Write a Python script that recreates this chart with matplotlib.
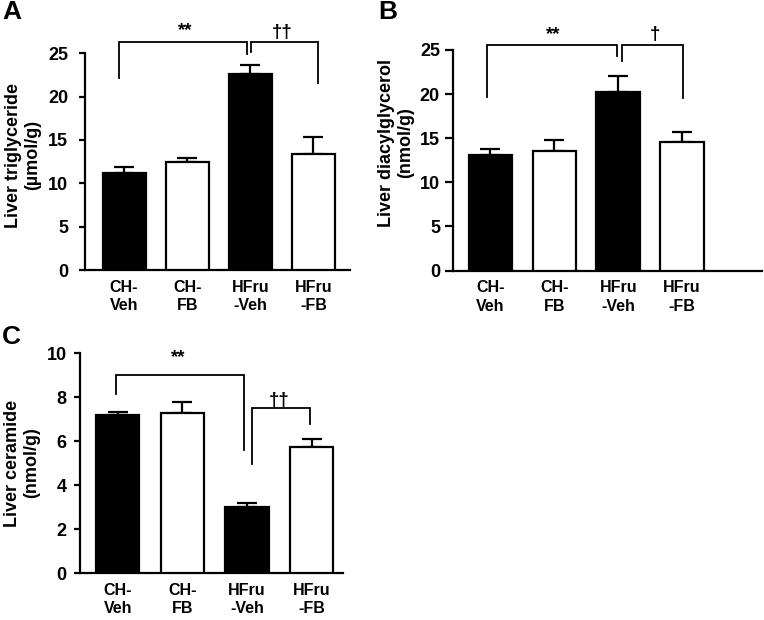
import matplotlib
matplotlib.use('Agg')
import matplotlib.pyplot as plt
import numpy as np

plt.rcParams['font.family'] = ['Liberation Sans', 'DejaVu Sans']
plt.rcParams['font.weight'] = 'bold'

groups = ['CH-\nVeh', 'CH-\nFB', 'HFru\n-Veh', 'HFru\n-FB']
bar_colors = ['black', 'white', 'black', 'white']

tg_mean = [11.15, 12.45, 22.6, 13.35]
tg_err = [0.7, 0.5, 1.0, 2.0]

dag_mean = [13.1, 13.6, 20.25, 14.55]
dag_err = [0.65, 1.15, 1.8, 1.15]

cer_mean = [7.17, 7.29, 3.01, 5.74]
cer_err = [0.14, 0.48, 0.16, 0.34]

tg_ticks = [0, 5, 10, 15, 20, 25]
dag_ticks = [0, 5, 10, 15, 20, 25]
cer_ticks = [0, 2, 4, 6, 8, 10]

W, H = 764, 620
fig = plt.figure(figsize=(W / 100, H / 100), dpi=100)


def px_axes(left, right, bottom, top):
    return fig.add_axes([left / W, 1 - bottom / H, (right - left) / W, (bottom - top) / H])


def panel(ax, means, errs, ticks, xlim, width, tlen, tpad):
    x = np.arange(len(means))
    ax.errorbar(x, means, yerr=[np.zeros(len(errs)), errs], fmt='none', ecolor='black',
                elinewidth=1.6, capsize=7, capthick=1.6, zorder=2, clip_on=False)
    ax.bar(x, means, width, color=bar_colors, edgecolor='black', linewidth=1.6, zorder=3)
    ax.set_xlim(*xlim)
    ax.set_ylim(ticks[0], ticks[-1])
    ax.set_yticks(ticks)
    ax.set_xticks(x)
    ax.set_xticklabels(groups, fontsize=11.5, fontweight='bold', linespacing=1.3)
    for s in ['top', 'right']:
        ax.spines[s].set_visible(False)
    for s in ['left', 'bottom']:
        ax.spines[s].set_linewidth(1.6)
    ax.tick_params(axis='x', length=0, pad=7)
    ax.tick_params(axis='y', length=tlen, width=1.6, pad=tpad, labelsize=13)
    for lab in ax.get_yticklabels():
        lab.set_fontweight('bold')


def bracket(ax, x1, x2, ytop, y1, y2):
    ax.plot([x1, x1, x2, x2], [y1, ytop, ytop, y2], color='black', lw=1.3,
            clip_on=False, solid_joinstyle='miter')


def mark(ax, x, y, s):
    ax.text(x, y, s, ha='center', va='center', fontsize=13.5, fontweight='bold', clip_on=False)


# Panel A
axA = px_axes(85, 350, 270, 53.3)
panel(axA, tg_mean, tg_err, tg_ticks, (-0.62, 3.58), 0.68, 4, 8)
bracket(axA, -0.08, 1.955, 26.3, 22.2, 24.9)
bracket(axA, 2.01, 3.08, 26.3, 25.2, 21.6)
mark(axA, 0.97, 27.6, '**')
mark(axA, 2.5, 27.4, '††')

# Panel B
axB = px_axes(453, 762, 270.5, 50)
panel(axB, dag_mean, dag_err, dag_ticks, (-0.585, 4.25), 0.68, 5.8, 3.6)
bracket(axB, -0.05, 1.98, 25.6, 19.7, 24.3)
bracket(axB, 2.06, 3.01, 25.6, 23.8, 19.6)
mark(axB, 0.98, 26.7, '**')
mark(axB, 2.58, 26.8, '†')

# Panel C
axC = px_axes(80, 343.3, 573, 353.3)
panel(axC, cer_mean, cer_err, cer_ticks, (-0.585, 3.49), 0.67, 4.5, 5)
bracket(axC, -0.03, 1.95, 9.0, 8.14, 5.62)
bracket(axC, 2.07, 2.98, 7.53, 4.95, 6.77)
mark(axC, 0.93, 9.8, '**')
mark(axC, 2.5, 7.85, '††')

# y labels
fig.text(23 / W, 1 - 155 / H, 'Liver triglyceride\n(µmol/g)', rotation=90, ha='center', va='center',
         fontsize=13, fontweight='bold', multialignment='center', linespacing=1.15)
fig.text(396 / W, 1 - 143 / H, 'Liver diacylglycerol\n(nmol/g)', rotation=90, ha='center', va='center',
         fontsize=13, fontweight='bold', multialignment='center', linespacing=1.15)
fig.text(22 / W, 1 - 463 / H, 'Liver ceramide\n(nmol/g)', rotation=90, ha='center', va='center',
         fontsize=13, fontweight='bold', multialignment='center', linespacing=1.15)

# panel letters
fig.text(2 / W, 1 - 0 / H, 'A', ha='left', va='top', fontsize=19, fontweight='bold')
fig.text(378 / W, 1 - 0 / H, 'B', ha='left', va='top', fontsize=19, fontweight='bold')
fig.text(2 / W, 1 - 325 / H, 'C', ha='left', va='top', fontsize=19, fontweight='bold')

fig.savefig('out.png', dpi=100)
